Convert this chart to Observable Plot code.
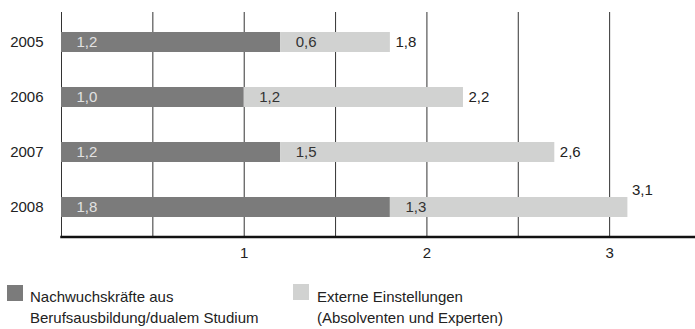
<!DOCTYPE html>
<html>
<head>
<meta charset="utf-8">
<script src="https://cdn.jsdelivr.net/npm/d3@7"></script>
<script src="https://cdn.jsdelivr.net/npm/@observablehq/plot@0.6"></script>
<style>
  html, body { margin: 0; padding: 0; background: #fff; }
  body { width: 695px; font-family: "Liberation Sans", Arial, sans-serif; color: #222; }
  #chart svg { display: block; }
  .legend { position: relative; height: 61px; font-size: 15px; line-height: 21px; color: #222; }
  .legend .swatch { position: absolute; width: 16px; height: 16px; }
  .legend .label { position: absolute; white-space: nowrap; }
</style>
</head>
<body>
<div id="chart"></div>
<div class="legend" id="legend"></div>
<script>
// Neueinstellungen pro Jahr (Tausend), gestapelt nach Herkunft
const years = ["2005", "2006", "2007", "2008"];
const nachwuchs = [1.2, 1.0, 1.2, 1.8];
const extern = [0.6, 1.2, 1.5, 1.3];
const totals = [1.8, 2.2, 2.6, 3.1];
const seriesNames = ["Nachwuchskräfte aus Berufsausbildung/dualem Studium", "Externe Einstellungen (Absolventen und Experten)"];
const legendLines = [
  ["Nachwuchskräfte aus", "Berufsausbildung/dualem Studium"],
  ["Externe Einstellungen", "(Absolventen und Experten)"]
];
const xTicks = [1, 2, 3];
const gridSteps = [0, 0.5, 1, 1.5, 2, 2.5, 3];
const colors = ["#7b7b7b", "#d1d2d1"];

const fmt = v => v.toFixed(1).replace(".", ",");

// one row per segment; "start" is where the segment begins in its stack
const rows = [];
years.forEach((year, i) => {
  rows.push({year, series: seriesNames[0], value: nachwuchs[i], start: 0});
  rows.push({year, series: seriesNames[1], value: extern[i], start: nachwuchs[i]});
});
const ends = years.map((year, i) => ({year, end: nachwuchs[i] + extern[i], total: totals[i]}));

const chart = Plot.plot({
  width: 695,
  height: 268,
  marginLeft: 61,
  marginRight: 0,
  marginTop: 12,
  marginBottom: 31.5,
  style: {fontFamily: "'Liberation Sans', Arial, sans-serif", fontSize: "15px", color: "#222", background: "#fff"},
  x: {domain: [0, 3.47]},
  y: {domain: years, paddingInner: 0.63, paddingOuter: 0.33, label: null},
  color: {domain: seriesNames, range: colors},
  marks: [
    Plot.ruleX(gridSteps, {stroke: "#333", strokeWidth: 1}),
    Plot.barX(rows, Plot.stackX({x: "value", y: "year", fill: "series"})),
    // segment values, written just inside the left end of each segment
    Plot.text(rows.filter(d => d.series === seriesNames[0]), {
      x: "start", y: "year",
      text: d => fmt(d.value), textAnchor: "start", dx: 15, fill: "#e2e2e2", fontSize: 15
    }),
    Plot.text(rows.filter(d => d.series === seriesNames[1]), {
      x: "start", y: "year",
      text: d => fmt(d.value), textAnchor: "start", dx: 15, fill: "#333", fontSize: 15
    }),
    // totals beside the bar ends; the longest bar carries its total above
    Plot.text(ends.slice(0, 3), {x: "end", y: "year", text: d => fmt(d.total), textAnchor: "start", dx: 5, fill: "#222", fontSize: 15}),
    Plot.text(ends.slice(3), {x: "end", y: "year", text: d => fmt(d.total), textAnchor: "start", dx: 4, dy: -17, fill: "#222", fontSize: 15}),
    Plot.axisY({tickSize: 0, tickPadding: 18, fontSize: 15, fill: "#222", label: null}),
    Plot.axisX({ticks: xTicks, tickSize: 0, tickPadding: 10, fontSize: 15, fill: "#222", tickFormat: d => String(d), label: null}),
    Plot.frame({anchor: "bottom", stroke: "#111", strokeWidth: 2.5})
  ]
});
document.getElementById("chart").appendChild(chart);

// legend below the chart
const legend = d3.select("#legend");
const legendPos = [{sx: 7, sy: 17, tx: 30}, {sx: 293, sy: 16, tx: 317}];
seriesNames.forEach((name, i) => {
  const p = legendPos[i];
  legend.append("div").attr("class", "swatch")
    .style("left", p.sx + "px").style("top", p.sy + "px").style("background", colors[i]);
  legend.append("div").attr("class", "label")
    .style("left", p.tx + "px").style("top", "18px")
    .html(legendLines[i].join("<br>"));
});
</script>
</body>
</html>
